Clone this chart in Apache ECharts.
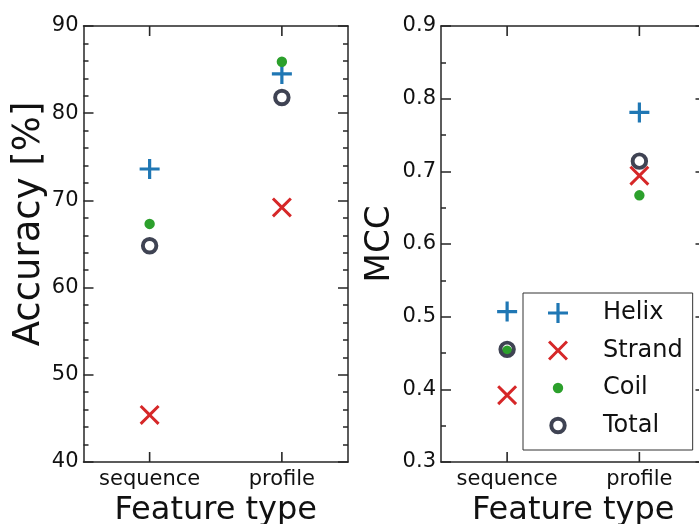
<!DOCTYPE html>
<html><head><meta charset="utf-8">
<script src="https://cdn.jsdelivr.net/npm/echarts@6/dist/echarts.min.js"></script>
<style>html,body{margin:0;padding:0;background:#fff}#c{width:699px;height:524px}</style>
</head><body><div id="c"></div>
<script>
const categories = ['sequence', 'profile'];
const seriesNames = ['Helix', 'Strand', 'Coil', 'Total'];
const accHelix = [73.6, 84.5];
const accStrand = [45.4, 69.2];
const accCoil = [67.3, 85.9];
const accTotal = [64.8, 81.8];
const mccHelix = [0.507, 0.781];
const mccStrand = [0.392, 0.694];
const mccCoil = [0.453, 0.667];
const mccTotal = [0.455, 0.714];
const accRange = { min: 40, max: 90, interval: 10 };
const mccRange = { min: 0.3, max: 0.9, interval: 0.1 };

const FONT = 'DejaVu Sans';
const AX = '#262626';
const colors = { Helix: '#1f77b4', Strand: '#d62728', Coil: '#2ca02c', Total: '#3f4353' };
const pad = 'M0,0L0,0.001L0.001,0Z M20,20L20,19.999L19.999,20Z ';
const symbols = {
  Helix: 'path://M8.4,0L11.6,0L11.6,8.4L20,8.4L20,11.6L11.6,11.6L11.6,20L8.4,20L8.4,11.6L0,11.6L0,8.4L8.4,8.4Z',
  Strand: 'path://M2.1,0L10,7.9L17.9,0L20,2.1L12.1,10L20,17.9L17.9,20L10,12.1L2.1,20L0,17.9L7.9,10L0,2.1Z',
  Coil: 'path://' + pad + 'M4.8,10A5.2,5.2,0,1,1,15.2,10A5.2,5.2,0,1,1,4.8,10Z',
  Total: 'path://' + pad + 'M1.3,10A8.7,8.7,0,1,1,18.7,10A8.7,8.7,0,1,1,1.3,10Z M5.2,10A4.8,4.8,0,1,0,14.8,10A4.8,4.8,0,1,0,5.2,10Z'
};
const catIdx = categories.map((c, i) => i);

function xAxis(gi, pos) {
  const ax = {
    type: 'value', gridIndex: gi, min: -0.5, max: 1.5, position: pos,
    axisLine: { show: true, onZero: false, lineStyle: { color: AX, width: 1.5 } },
    axisTick: { show: false },
    splitLine: { show: false }
  };
  if (pos === 'bottom') {
    ax.axisLabel = { customValues: catIdx.slice(), formatter: v => categories[Math.round(v)], fontFamily: FONT, fontSize: 21, color: '#111', margin: 7 };
    ax.name = 'Feature type';
    ax.nameLocation = 'middle';
    ax.nameGap = 31;
    ax.nameTextStyle = { fontFamily: FONT, fontSize: 32, color: '#111' };
  } else {
    ax.axisLabel = { show: false };
  }
  return ax;
}
function yAxis(gi, pos, range, split, fmt, name, nameGap, nameSize, namePad) {
  const ax = {
    type: 'value', gridIndex: gi, position: pos, min: range.min, max: range.max, interval: range.interval,
    axisLine: { show: true, onZero: false, lineStyle: { color: AX, width: 1.5 } },
    axisTick: { show: true, inside: true, length: 10, lineStyle: { color: AX, width: 1.5 } },
    minorTick: { show: true, splitNumber: split, length: 5, lineStyle: { color: AX, width: 1.5 } },
    splitLine: { show: false }, minorSplitLine: { show: false }
  };
  if (pos === 'left') {
    ax.axisLabel = { fontFamily: FONT, fontSize: 21, color: '#111', margin: 5, formatter: fmt };
    ax.name = name;
    ax.nameLocation = 'middle';
    ax.nameGap = nameGap;
    ax.nameTextStyle = { fontFamily: FONT, fontSize: nameSize, color: '#111', padding: namePad };
  } else {
    ax.axisLabel = { show: false };
  }
  return ax;
}
function mkSeries(name, vals, xi, yi) {
  return {
    type: 'scatter', name: name, xAxisIndex: xi, yAxisIndex: yi,
    symbol: symbols[name], symbolSize: 20, symbolKeepAspect: true,
    itemStyle: { color: colors[name], opacity: 1 },
    emphasis: { disabled: true },
    data: vals.map((v, i) => [catIdx[i], v])
  };
}
// category tick marks on the bottom and top frame edges (inside-pointing)
function tickSeries(xi, yi, range) {
  const base = {
    type: 'scatter', xAxisIndex: xi, yAxisIndex: yi, silent: true, z: 3, clip: false,
    symbol: 'rect', symbolSize: [1.6, 10], symbolKeepAspect: false,
    itemStyle: { color: AX, opacity: 1 }, emphasis: { disabled: true }, tooltip: { show: false }
  };
  return [
    Object.assign({}, base, { name: '_tickB', symbolOffset: [0, -5], data: catIdx.map(i => [i, range.min]) }),
    Object.assign({}, base, { name: '_tickT', symbolOffset: [0, 5], data: catIdx.map(i => [i, range.max]) })
  ];
}
const accData = [accHelix, accStrand, accCoil, accTotal];
const mccData = [mccHelix, mccStrand, mccCoil, mccTotal];
const series = [];
series.push(...tickSeries(0, 0, accRange));
series.push(...tickSeries(2, 2, mccRange));
seriesNames.forEach((n, k) => series.push(mkSeries(n, accData[k], 0, 0)));
seriesNames.forEach((n, k) => series.push(mkSeries(n, mccData[k], 2, 2)));

const accFmt = v => String(Math.round(v));
const mccFmt = v => v.toFixed(1);
const chart = echarts.init(document.getElementById('c'), null, { renderer: 'canvas' });
chart.setOption({
  animation: false,
  backgroundColor: '#fff',
  grid: [
    { left: 83.5, top: 26, width: 264.5, height: 436, outerBoundsMode: 'none' },
    { left: 441, top: 26, width: 264.5, height: 436, outerBoundsMode: 'none' }
  ],
  xAxis: [xAxis(0, 'bottom'), xAxis(0, 'top'), xAxis(1, 'bottom'), xAxis(1, 'top')],
  yAxis: [
    yAxis(0, 'left', accRange, 5, accFmt, 'Accuracy [%]', 36, 37, [0, 0, 0, 40]),
    yAxis(0, 'right', accRange, 5, accFmt),
    yAxis(1, 'left', mccRange, 2, mccFmt, 'MCC', 44, 34, [0, 0, 0, 0]),
    yAxis(1, 'right', mccRange, 2, mccFmt)
  ],
  legend: {
    orient: 'vertical', left: 523, top: 293,
    data: seriesNames, selectedMode: false,
    itemWidth: 20, itemHeight: 20, itemGap: 13.5,
    padding: [8, 10, 12.5, 25],
    borderColor: '#333', borderWidth: 1, borderRadius: 0, backgroundColor: '#fff',
    textStyle: { fontFamily: FONT, fontSize: 24, color: '#111', lineHeight: 24, padding: [0, 0, 0, 30] }
  },
  series: series
});
</script></body></html>
